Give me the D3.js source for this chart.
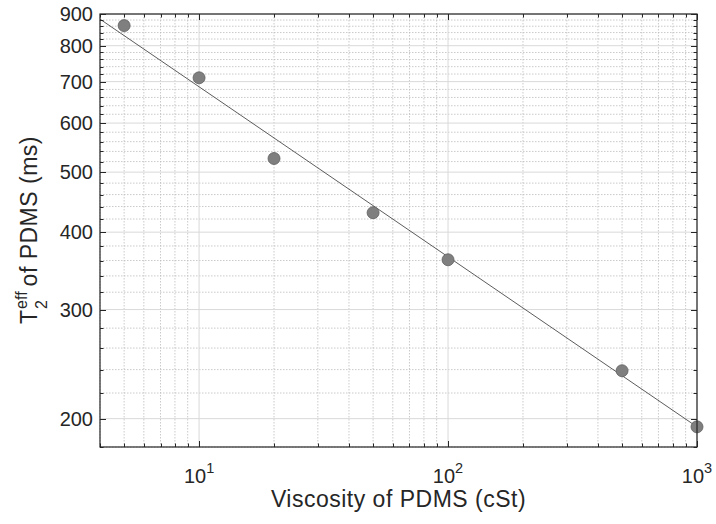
<!DOCTYPE html>
<html>
<head>
<meta charset="utf-8">
<script src="https://cdn.jsdelivr.net/npm/d3@7"></script>
<style>
  body { margin: 0; background: #fff; }
  text { font-family: "Liberation Sans", Arial, sans-serif; fill: #262626; }
</style>
</head>
<body>
<svg width="716" height="524"></svg>
<script>
// measured data
var viscosity = [5, 10, 20, 50, 100, 500, 1000];
var t2eff = [862, 710, 526, 430, 361, 239, 194];

// fitted power-law line, read at the plot edges
var fitX = [4, 1000];
var fitY = [883, 194];

var xMajor = [10, 100, 1000];
var xExp = ['1', '2', '3'];
var xMinor = [4, 5, 6, 7, 8, 9, 20, 30, 40, 50, 60, 70, 80, 90, 200, 300, 400, 500, 600, 700, 800, 900];
var yMajor = [200, 300, 400, 500, 600, 700, 800, 900];
var yMinor = [];
for (var v = 180; v < 900; v += 20) {
    if (v % 100 !== 0) yMinor.push(v);
}

var L = 100, T = 14, R = 697, B = 447;

var svg = d3.select('svg');

var x = d3.scaleLog().domain([4, 1000]).range([L, R]);
var y = d3.scaleLog().domain([180, 900]).range([B, T]);

var grid = svg.append('g');

// minor grid (dotted)
grid.selectAll('.xm').data(xMinor).enter().append('line')
    .attr('x1', function(d) { return x(d); }).attr('x2', function(d) { return x(d); })
    .attr('y1', T).attr('y2', B)
    .attr('stroke', '#bdbdbd').attr('stroke-width', 0.8).attr('stroke-dasharray', '1.5,1.5');
grid.selectAll('.ym').data(yMinor).enter().append('line')
    .attr('y1', function(d) { return y(d); }).attr('y2', function(d) { return y(d); })
    .attr('x1', L).attr('x2', R)
    .attr('stroke', '#bdbdbd').attr('stroke-width', 0.8).attr('stroke-dasharray', '1.5,1.5');

// major grid (solid)
grid.selectAll('.xM').data(xMajor).enter().append('line')
    .attr('x1', function(d) { return x(d); }).attr('x2', function(d) { return x(d); })
    .attr('y1', T).attr('y2', B)
    .attr('stroke', '#d9d9d9').attr('stroke-width', 1);
grid.selectAll('.yM').data(yMajor).enter().append('line')
    .attr('y1', function(d) { return y(d); }).attr('y2', function(d) { return y(d); })
    .attr('x1', L).attr('x2', R)
    .attr('stroke', '#d9d9d9').attr('stroke-width', 1);

// fit line
var line = d3.line()
    .x(function(d) { return x(d[0]); })
    .y(function(d) { return y(d[1]); });
svg.append('path')
    .datum(d3.zip(fitX, fitY))
    .attr('d', line)
    .attr('fill', 'none')
    .attr('stroke', '#4a4a4a')
    .attr('stroke-width', 0.9);

// points
svg.selectAll('circle').data(d3.zip(viscosity, t2eff)).enter().append('circle')
    .attr('cx', function(d) { return x(d[0]); })
    .attr('cy', function(d) { return y(d[1]); })
    .attr('r', 6)
    .attr('fill', '#7f7f7f')
    .attr('stroke', '#606060')
    .attr('stroke-width', 0.8);

// box with inward ticks, like matlab
var axisCol = '#262626';
var tk = svg.append('g').attr('stroke', axisCol).attr('stroke-width', 1);

function xTicksAt(vals, len) {
    vals.forEach(function(d) {
        var px = Math.round(x(d)) + 0.5;
        tk.append('line').attr('x1', px).attr('x2', px).attr('y1', B).attr('y2', B - len);
        tk.append('line').attr('x1', px).attr('x2', px).attr('y1', T).attr('y2', T + len);
    });
}
function yTicksAt(vals, len) {
    vals.forEach(function(d) {
        var py = Math.round(y(d)) + 0.5;
        tk.append('line').attr('y1', py).attr('y2', py).attr('x1', L).attr('x2', L + len);
        tk.append('line').attr('y1', py).attr('y2', py).attr('x1', R).attr('x2', R - len);
    });
}
xTicksAt(xMajor, 6);
xTicksAt(xMinor, 3.5);
yTicksAt(yMajor, 6);
yTicksAt(yMinor, 3.5);

svg.append('rect')
    .attr('x', L).attr('y', T).attr('width', R - L).attr('height', B - T)
    .attr('fill', 'none').attr('stroke', axisCol).attr('stroke-width', 1.2);

// y tick labels
svg.selectAll('.ylab').data(yMajor).enter().append('text')
    .attr('x', L - 7)
    .attr('y', function(d) { return y(d); })
    .attr('dy', '0.36em')
    .attr('text-anchor', 'end')
    .attr('font-size', 20)
    .text(function(d) { return d; });

// x tick labels 10^n
xMajor.forEach(function(d, i) {
    var t = svg.append('text')
        .attr('x', x(d))
        .attr('y', 483)
        .attr('text-anchor', 'middle')
        .attr('font-size', 20);
    t.append('tspan').text('10');
    t.append('tspan').attr('font-size', 14.5).attr('dy', -10).text(xExp[i]);
});

// axis labels
svg.append('text')
    .attr('x', (L + R) / 2)
    .attr('y', 507)
    .attr('text-anchor', 'middle')
    .attr('font-size', 23)
    .attr('letter-spacing', 0.5)
    .text('Viscosity of PDMS (cSt)');

var yl = svg.append('g').attr('transform', 'translate(37,230) rotate(-90)');
var tT = yl.append('text').attr('font-size', 23).text('T');
var tSup = yl.append('text').attr('font-size', 16).text('eff');
var tSub = yl.append('text').attr('font-size', 16).text('2');
var tRest = yl.append('text').attr('font-size', 23).attr('letter-spacing', 0.5).text('of PDMS (ms)');
var gap = 6;
var wT = tT.node().getComputedTextLength();
var wS = Math.max(tSup.node().getComputedTextLength(), tSub.node().getComputedTextLength());
var wR = tRest.node().getComputedTextLength();
var x0 = -(wT + wS + gap + wR) / 2;
tT.attr('x', x0).attr('y', 0);
tSup.attr('x', x0 + wT + 1).attr('y', -10);
tSub.attr('x', x0 + wT + 1).attr('y', 10);
tRest.attr('x', x0 + wT + wS + gap).attr('y', 0);
</script>
</body>
</html>
